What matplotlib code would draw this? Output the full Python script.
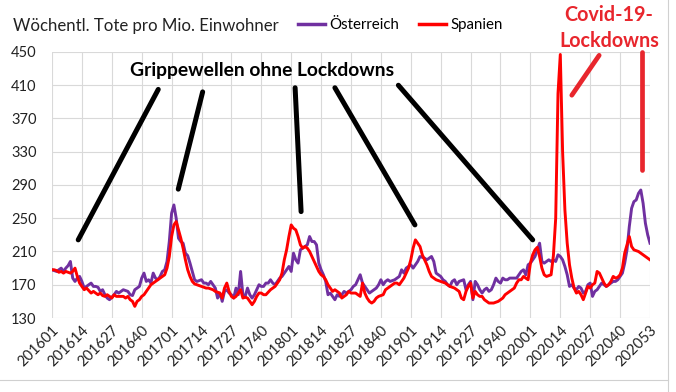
import matplotlib
matplotlib.use('Agg')
import matplotlib.pyplot as plt
from matplotlib.lines import Line2D

plt.rcParams['font.family'] = ['Lato', 'DejaVu Sans']

years = [2016, 2017, 2018, 2019, 2020]
weeks_per_year = [52, 52, 52, 52, 53]

# weekly deaths per million, Austria
at_2016 = [188, 187, 186, 188, 190, 186, 190, 193, 198, 178,
           174, 178, 180, 174, 166, 168, 170, 172, 168, 168,
           167, 162, 164, 158, 154, 152, 155, 158, 162, 160,
           162, 164, 163, 162, 158, 157, 164, 166, 168, 178,
           184, 174, 176, 172, 184, 178, 176, 180, 186, 188,
           198, 222]
at_2017 = [256, 266, 250, 226, 222, 220, 208, 205, 196, 186,
           176, 174, 175, 176, 172, 172, 170, 174, 170, 166,
           154, 160, 150, 162, 164, 160, 158, 154, 166, 158,
           186, 158, 156, 166, 158, 154, 158, 164, 170, 168,
           168, 172, 172, 176, 172, 170, 174, 178, 180, 184,
           188, 192]
at_2018 = [186, 208, 200, 196, 212, 214, 216, 218, 228, 222,
           222, 218, 196, 188, 182, 174, 158, 160, 156, 152,
           158, 156, 158, 162, 160, 162, 164, 168, 170, 176,
           182, 172, 168, 164, 160, 162, 164, 166, 170, 176,
           170, 174, 176, 174, 175, 176, 178, 180, 188, 184,
           190, 192]
at_2019 = [194, 190, 194, 198, 204, 203, 202, 200, 202, 204,
           198, 184, 182, 180, 176, 174, 170, 168, 174, 176,
           170, 174, 175, 176, 164, 170, 174, 152, 174, 170,
           164, 160, 164, 166, 162, 164, 170, 178, 174, 172,
           178, 176, 176, 178, 178, 178, 178, 182, 186, 188,
           182, 194]
at_2020 = [196, 200, 204, 212, 220, 198, 196, 198, 200, 198,
           200, 198, 206, 204, 200, 192, 182, 168, 170, 166,
           164, 168, 166, 160, 162, 170, 172, 156, 162, 164,
           168, 172, 170, 168, 170, 172, 174, 174, 176, 180,
           184, 196, 212, 240, 262, 270, 272, 280, 284, 268,
           244, 230, 220]

# weekly deaths per million, Spain
es_2016 = [188, 188, 187, 185, 186, 184, 186, 185, 184, 186,
           190, 180, 172, 168, 164, 166, 163, 160, 162, 160,
           158, 160, 157, 156, 158, 156, 154, 158, 156, 156,
           156, 156, 154, 156, 152, 150, 144, 150, 152, 156,
           158, 162, 166, 170, 172, 174, 176, 178, 180, 182,
           190, 204]
es_2017 = [228, 242, 246, 236, 226, 214, 200, 188, 180, 174,
           171, 170, 169, 168, 167, 166, 166, 165, 164, 162,
           161, 160, 154, 166, 172, 162, 156, 154, 156, 160,
           164, 154, 155, 154, 150, 146, 150, 156, 160, 160,
           158, 158, 161, 164, 166, 168, 172, 176, 184, 200,
           212, 228]
es_2018 = [242, 238, 236, 228, 218, 214, 216, 214, 210, 204,
           198, 192, 186, 182, 180, 176, 170, 166, 162, 164,
           162, 160, 154, 156, 158, 162, 160, 160, 160, 158,
           156, 172, 160, 154, 150, 148, 150, 154, 156, 157,
           158, 164, 166, 168, 170, 172, 172, 170, 174, 178,
           184, 190]
es_2019 = [200, 214, 224, 220, 216, 206, 200, 194, 186, 180,
           178, 176, 175, 174, 173, 172, 170, 168, 167, 166,
           164, 162, 154, 152, 162, 168, 172, 154, 162, 158,
           156, 156, 152, 150, 148, 148, 148, 149, 150, 152,
           154, 158, 160, 162, 164, 166, 172, 176, 176, 180,
           178, 176]
es_2020 = [196, 206, 212, 215, 204, 190, 182, 180, 181, 182,
           205, 250, 400, 447, 330, 260, 220, 194, 178, 166,
           160, 162, 158, 152, 160, 168, 166, 170, 172, 186,
           184, 178, 172, 168, 170, 174, 180, 178, 179, 182,
           190, 208, 218, 228, 216, 212, 211, 210, 208, 206,
           204, 202, 200]

austria = at_2016 + at_2017 + at_2018 + at_2019 + at_2020
spain = es_2016 + es_2017 + es_2018 + es_2019 + es_2020

labels = [f'{y}{w:02d}' for y, n in zip(years, weeks_per_year) for w in range(1, n + 1)]
x = list(range(len(labels)))

yticks = [130, 170, 210, 250, 290, 330, 370, 410, 450]

# hand drawn pointer strokes (week index, value)
flu_strokes = [((46.2, 405), (11.4, 224)),
               ((65.5, 402), (54.9, 285)),
               ((105.7, 407), (108.3, 258)),
               ((123.0, 407), (157.8, 242)),
               ((150.6, 410), (209.0, 224))]
covid_strokes = [((226.0, 398), (237.9, 446)),
                 ((256.7, 450), (256.7, 308))]

purple = '#7030A0'
red = '#FF0000'
annot_red = '#E8262D'

fig = plt.figure(figsize=(6.76, 3.92), dpi=100)
ax = fig.add_axes([52 / 676, 1 - 318 / 392, 598 / 676, 266 / 392])

ax.plot(x, austria, color=purple, lw=2.1, zorder=3)
ax.plot(x, spain, color=red, lw=2.1, zorder=4)

ax.set_xlim(0, len(labels) - 1)
ax.set_ylim(130, 450)
ax.set_yticks(yticks)
ax.set_xticks(x[::13])
ax.set_xticklabels(labels[::13], rotation=45, ha='right', rotation_mode='anchor')
ax.tick_params(axis='both', length=0, labelsize=10.5, colors='#222222')
ax.tick_params(axis='y', pad=11)
ax.tick_params(axis='x', pad=4)
ax.grid(True, color='#d9d9d9', lw=0.8)
ax.set_axisbelow(True)
for s in ax.spines.values():
    s.set_visible(False)

for (x0, y0), (x1, y1) in flu_strokes:
    ax.plot([x0, x1], [y0, y1], color='black', lw=3.6, solid_capstyle='round', zorder=6, clip_on=False)
for (x0, y0), (x1, y1) in covid_strokes:
    ax.plot([x0, x1], [y0, y1], color=annot_red, lw=3.4, solid_capstyle='round', zorder=6, clip_on=False)

ax.text(91.3, 421, 'Grippewellen ohne Lockdowns', ha='center', va='baseline',
        fontsize=13.9, fontweight='bold', color='black', zorder=7)

fig.text(13 / 676, 1 - 31 / 392, 'Wöchentl. Tote pro Mio. Einwohner', ha='left', va='baseline',
         fontsize=12.1, color='#222222')
fig.text(609 / 676, 1 - 5 / 392, 'Covid-19-\nLockdowns', ha='center', va='top',
         fontsize=14.2, fontweight='bold', color=annot_red, linespacing=1.4)

handles = [Line2D([], [], color=purple, lw=2.5), Line2D([], [], color=red, lw=2.5)]
fig.legend(handles, ['Österreich', 'Spanien'], loc='center left',
           bbox_to_anchor=(298 / 676, 1 - 25 / 392), ncol=2, frameon=False,
           fontsize=10.8, handlelength=1.8, handletextpad=0.3, columnspacing=1.3,
           borderaxespad=0, borderpad=0)

# faint sheet cell borders around the chart
fig.add_artist(Line2D([668 / 676, 668 / 676], [0, 1], color='#d0d0d0', lw=0.8))
fig.add_artist(Line2D([0, 668 / 676], [1 - 380 / 392, 1 - 380 / 392], color='#d0d0d0', lw=0.8))

fig.savefig('out.png', dpi=100)
